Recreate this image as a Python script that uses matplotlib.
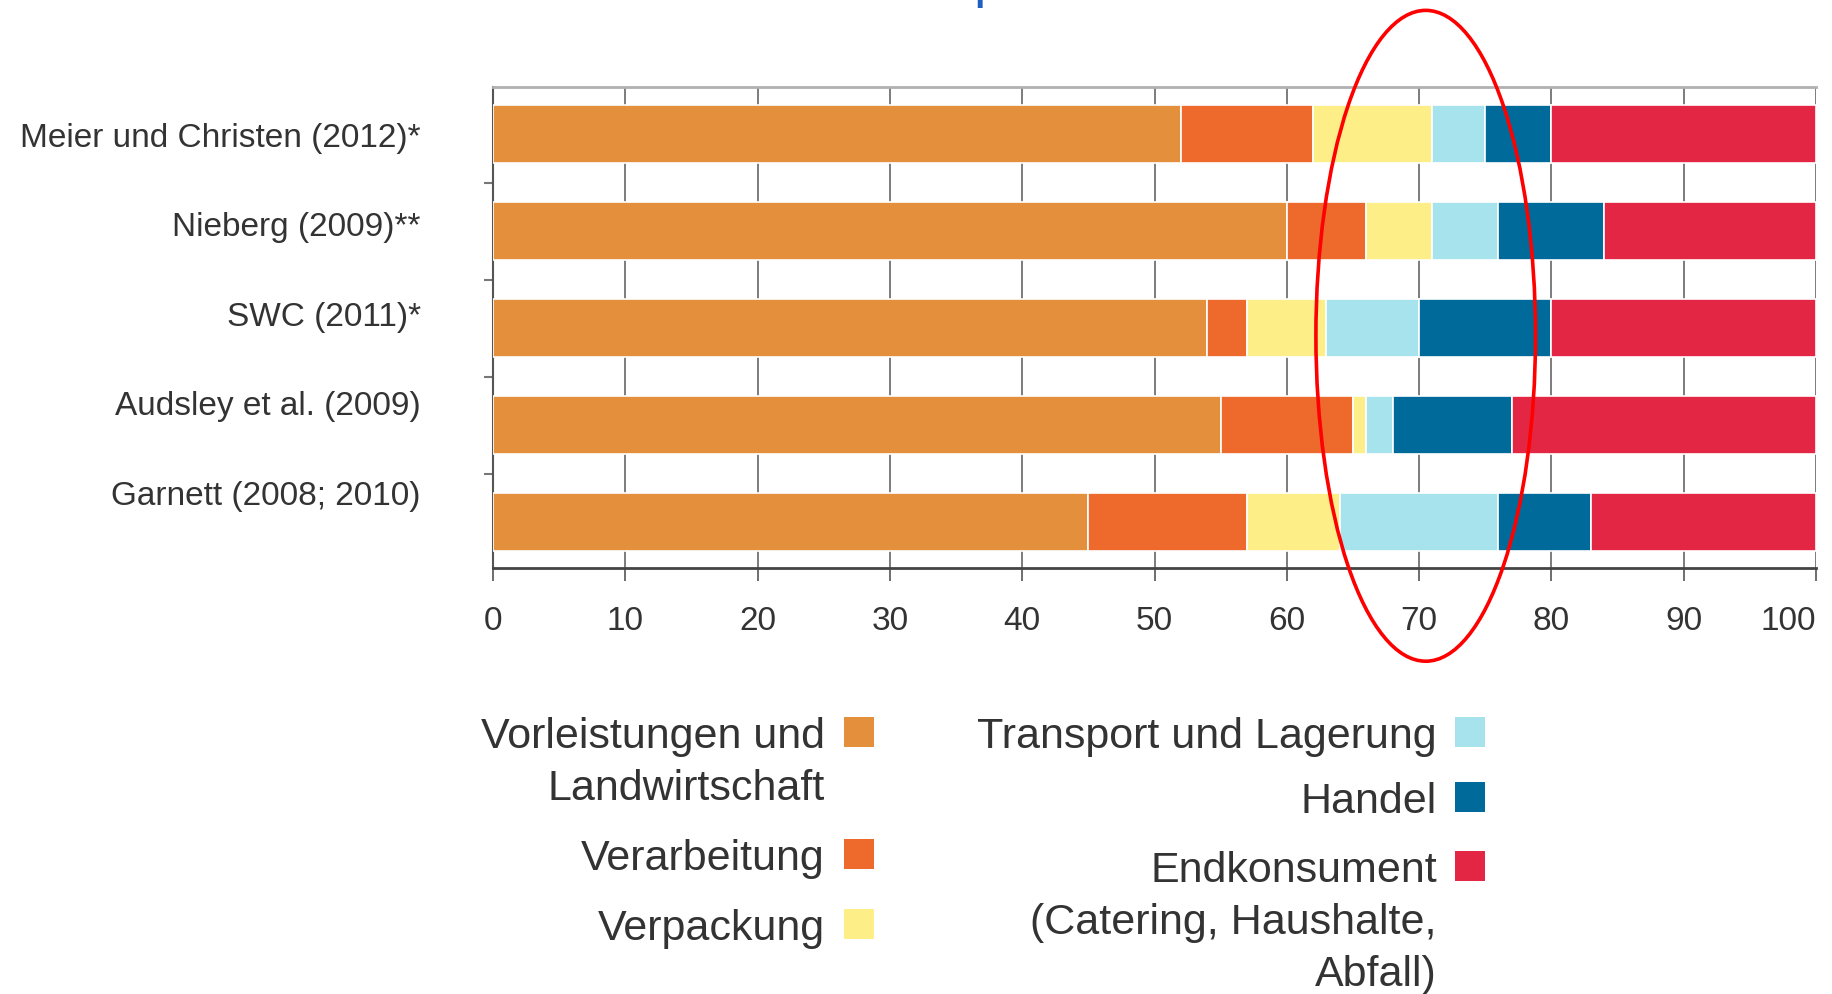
import matplotlib.pyplot as plt
import numpy as np
from matplotlib.patches import Ellipse, Rectangle

plt.rcParams['font.family'] = ['Liberation Sans', 'DejaVu Sans']

# data (share in %)
studies = ["Meier und Christen (2012)*", "Nieberg (2009)**", "SWC (2011)*",
           "Audsley et al. (2009)", "Garnett (2008; 2010)"]
stages = ["Vorleistungen und\nLandwirtschaft", "Verarbeitung", "Verpackung",
          "Transport und Lagerung", "Handel",
          "Endkonsument\n(Catering, Haushalte,\nAbfall)"]
colors = ["#e38f3c", "#ee6a2c", "#fdee87", "#a6e3ed", "#006b9a", "#e32644"]

vorleistung = [52, 60, 54, 55, 45]
verarbeitung = [10, 6, 3, 10, 12]
verpackung = [9, 5, 6, 1, 7]
transport = [4, 5, 7, 2, 12]
handel = [5, 8, 10, 9, 7]
endkonsum = [20, 16, 20, 23, 17]
xticks = list(range(0, 101, 10))

series = [vorleistung, verarbeitung, verpackung, transport, handel, endkonsum]

W, H = 1833, 995
fig = plt.figure(figsize=(W / 100, H / 100), dpi=100)
ax = fig.add_axes([493 / W, 1 - 569 / H, (1816 - 493) / W, (569 - 88) / H])

y = np.arange(len(studies))
left = np.zeros(len(studies))
for vals, col in zip(series, colors):
    ax.barh(y, vals, left=left, height=0.59, color=col, edgecolor='white',
            linewidth=1.2, zorder=3)
    left += np.array(vals)

ax.set_xlim(0, 100)
ax.set_ylim(4.474, -0.485)
ax.set_xticks(xticks)
ax.set_xticklabels([str(t) for t in xticks])
ax.get_xticklabels()[-1].set_horizontalalignment('right')
# in the original the study labels sit a bit tighter than the bars
ax.set_yticks(y * 0.922)
ax.set_yticklabels(studies)
ax.set_yticks(np.arange(0.5, 4, 1), minor=True)

ax.set_axisbelow(True)
ax.xaxis.grid(True, color='#666666', linewidth=1.2, zorder=0)

ax.spines['right'].set_visible(False)
ax.spines['top'].set_color('#b0b0b0')
ax.spines['top'].set_linewidth(2)
ax.spines['left'].set_color('#555555')
ax.spines['left'].set_linewidth(1.5)
ax.spines['bottom'].set_color('#444444')
ax.spines['bottom'].set_linewidth(2)

ax.tick_params(axis='x', length=9, width=1.2, color='#555555', pad=18,
               labelsize=24, labelcolor='#333333')
ax.tick_params(axis='y', which='major', length=0, pad=52, labelsize=24,
               labelcolor='#333333')
ax.tick_params(axis='y', which='minor', length=6.5, width=1.5, color='#777777')

# red highlight ellipse
ax.add_patch(Ellipse((70.5, 2.08), 16.6, 6.71, fill=False, edgecolor='red',
                     linewidth=2.6, clip_on=False, zorder=6))

# cropped title fragment at the top edge
fig.text(973 / W, 1 + 4.5 / H, "p", ha='left', va='baseline', fontsize=40,
         color='#1f5fbf')

# legend: right-aligned labels with a square to their right
text_right = [825, 1437]
box_left = [844, 1455]
row_y = [733, 855, 925, 733, 798, 867]
line_step = 52
for i, (lab, col) in enumerate(zip(stages, colors)):
    c = 0 if i < 3 else 1
    yc = row_y[i]
    for k, line in enumerate(lab.split('\n')):
        fig.text(text_right[c] / W, 1 - (yc + 15 + k * line_step) / H, line,
                 ha='right', va='baseline', fontsize=31, color='#333333')
    fig.patches.append(Rectangle((box_left[c] / W, 1 - (yc + 15) / H),
                                 30 / W, 30 / H, transform=fig.transFigure,
                                 facecolor=col, edgecolor='none'))

plt.savefig('out.png', dpi=100)
